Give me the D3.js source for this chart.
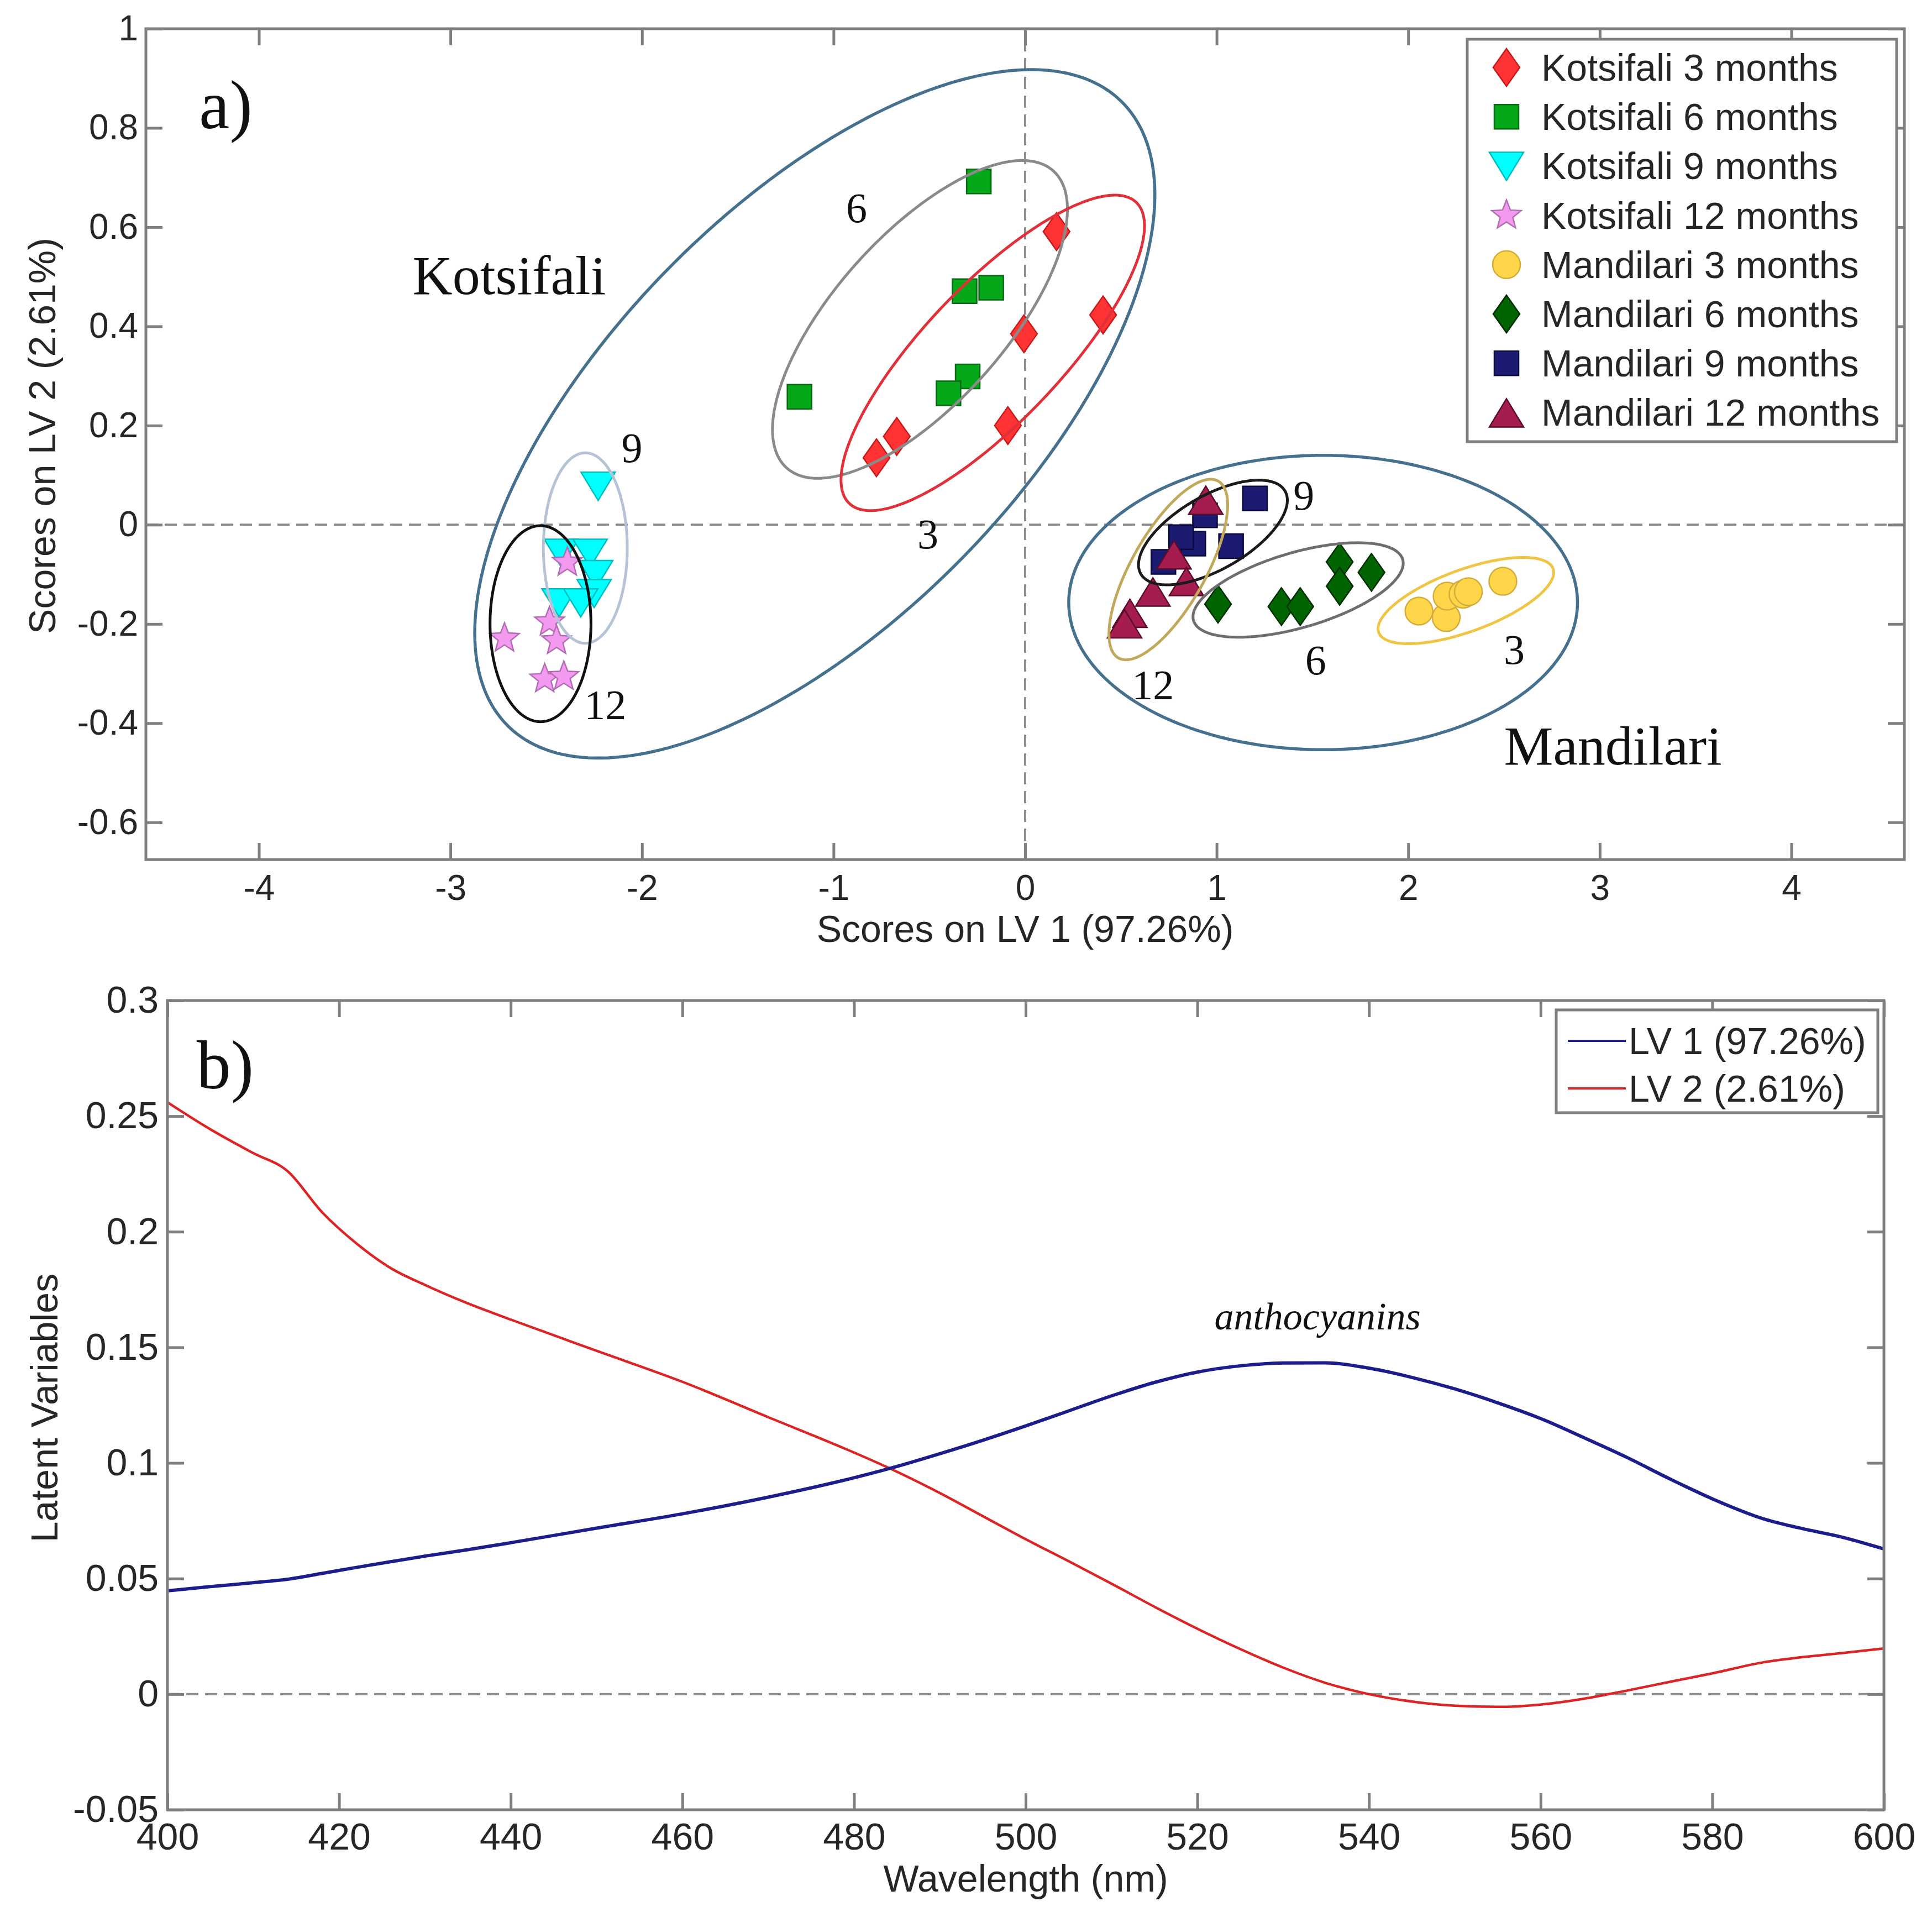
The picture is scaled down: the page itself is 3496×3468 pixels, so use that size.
<!DOCTYPE html>
<html><head><meta charset="utf-8">
<script src="https://cdn.jsdelivr.net/npm/d3@7"></script>
<style>body{margin:0;background:#fff}</style>
</head><body>
<svg id="c" width="3496" height="3468" xmlns="http://www.w3.org/2000/svg"></svg>
<script>
// ---------------- DATA: panel a (scores) ----------------
const kotsifali3  = [[0.164,0.591],[0.407,0.423],[-0.006,0.385],[-0.09,0.200],[-0.67,0.178],[-0.776,0.135]];
const kotsifali6  = [[-0.242,0.692],[-0.316,0.471],[-0.177,0.478],[-0.300,0.299],[-0.400,0.265],[-1.178,0.258]];
const kotsifali9  = [[-2.229,0.078],[-2.421,-0.057],[-2.271,-0.057],[-2.242,-0.100],[-2.250,-0.138],[-2.433,-0.157],[-2.320,-0.157]];
const kotsifali12 = [[-2.390,-0.076],[-2.483,-0.196],[-2.446,-0.234],[-2.718,-0.229],[-2.508,-0.311],[-2.408,-0.306]];
const mandilari3  = [[2.056,-0.174],[2.198,-0.187],[2.203,-0.144],[2.286,-0.140],[2.314,-0.135],[2.494,-0.114]];
const mandilari6  = [[1.007,-0.160],[1.338,-0.165],[1.436,-0.165],[1.642,-0.075],[1.642,-0.124],[1.808,-0.096]];
const mandilari9  = [[1.200,0.053],[0.939,0.019],[0.878,-0.038],[0.814,-0.025],[1.075,-0.043],[0.722,-0.075]];
const mandilari12 = [[0.943,0.050],[0.777,-0.060],[0.842,-0.114],[0.667,-0.135],[0.547,-0.178],[0.519,-0.199]];

const legendNames = ["Kotsifali 3 months","Kotsifali 6 months","Kotsifali 9 months","Kotsifali 12 months",
                     "Mandilari 3 months","Mandilari 6 months","Mandilari 9 months","Mandilari 12 months"];

// confidence ellipses: centre, semi-axis vector A, semi-axis vector B (data units)
const ellipseCenters = [[-1.098,0.2236],[-0.549,0.414],[-0.169,0.3465],[-2.296,-0.047],[-2.530,-0.1995],
                        [1.5556,-0.1568],[2.301,-0.1529],[1.425,-0.1315],[0.9804,-0.0156],[0.7475,-0.0903]];
const ellipseAxisA  = [[1.600,0.630],[0.696,0.2994],[0.749,0.3035],[0,0.192],[0,0.1976],
                        [1.328,0],[0.455,0.0643],[0.546,0.0615],[0.3764,0.0836],[0.2603,0.1783]];
const ellipseAxisB  = [[0.769,-0.291],[0.329,-0.114],[0.258,-0.095],[0.219,0],[0.2634,0],
                        [0,0.2967],[0.0556,-0.0586],[0.0549,-0.0727],[0.0961,-0.0644],[0.168,-0.0366]];

const annotTextA = ["Kotsifali","Mandilari","6","3","9","12","9","6","12","3"];
const annotPosA  = [[-3.198,0.465],[2.50,-0.4836],[-0.88,0.61],[-0.508,-0.048],[-2.053,0.126],[-2.192,-0.392],
                    [1.455,0.0305],[1.517,-0.302],[0.667,-0.352],[2.553,-0.281]];

const xTicksA = [-4,-3,-2,-1,0,1,2,3,4];
const yTicksA = [-0.6,-0.4,-0.2,0,0.2,0.4,0.6,0.8,1];

// ---------------- DATA: panel b (loadings) ----------------
const wavelength = [400,405,410,414,418,422,426,430,435,440,450,460,470,480,485,490,495,500,505,510,515,520,
                    525,530,535,540,545,550,555,560,565,570,575,580,586,590,595,600];
const lv1 = [0.0447,0.0465,0.0482,0.0497,0.0522,0.0548,0.0573,0.0597,0.0625,0.0655,0.0718,0.0780,0.0852,0.0936,
             0.0985,0.1040,0.1098,0.1160,0.1225,0.1290,0.1348,0.1393,0.1420,0.1432,0.1433,0.1410,0.1370,0.1320,
             0.1260,0.1192,0.1110,0.1025,0.0932,0.0845,0.0758,0.0720,0.0680,0.0628];
const lv2 = [0.256,0.2443,0.2340,0.2262,0.2085,0.1950,0.1843,0.1770,0.1690,0.1620,0.1485,0.1351,0.1198,0.1045,
             0.0962,0.0870,0.0770,0.0670,0.0575,0.0478,0.0378,0.0283,0.0195,0.0115,0.0048,0.0000,-0.0032,-0.0050,
             -0.0055,-0.0045,-0.0020,0.0015,0.0053,0.0090,0.0138,0.0158,0.0177,0.0198];
const lineNames = ["LV 1 (97.26%)","LV 2 (2.61%)"];
const xTicksB = [400,420,440,460,480,500,520,540,560,580,600];
const yTicksB = [-0.05,0,0.05,0.1,0.15,0.2,0.25,0.3];

// ---------------- drawing ----------------
const svg = d3.select("#c");
svg.append("rect").attr("width",3496).attr("height",3468).attr("fill","#fff");
const SANS = "'Liberation Sans', Arial, sans-serif";
const SERIF = "'Liberation Serif', 'Times New Roman', serif";
const AX = "#7f7f7f", TXT = "#262626";
const fmt = d => String(+(+d).toFixed(3));

const xA = d3.scaleLinear().domain([-4.59,4.59]).range([264,3446]);
const yA = d3.scaleLinear().domain([-0.675,1]).range([1555,52]);
const xB = d3.scaleLinear().domain([400,600]).range([303,3409]);
const yB = d3.scaleLinear().domain([-0.05,0.3]).range([3274,1810]);

function styleAxis(g, fs){
  g.select(".domain").remove();
  g.selectAll(".tick line").attr("stroke",AX).attr("stroke-width",5);
  g.selectAll("text").attr("font-family",SANS).attr("font-size",fs).attr("fill",TXT);
}
function frame(x, y, xt, yt, fs, padX, padY){
  const [x0,x1] = x.range(), [y0,y1] = y.range();
  const g = svg.append("g");
  g.append("g").attr("transform",`translate(0,${y0})`)
    .call(d3.axisBottom(x).tickValues(xt).tickFormat(fmt).tickSize(-30).tickSizeOuter(0).tickPadding(padX))
    .call(a=>styleAxis(a,fs));
  g.append("g").attr("transform",`translate(0,${y1})`)
    .call(d3.axisTop(x).tickValues(xt).tickFormat("").tickSize(-30).tickSizeOuter(0))
    .call(a=>styleAxis(a,fs));
  g.append("g").attr("transform",`translate(${x0},0)`)
    .call(d3.axisLeft(y).tickValues(yt).tickFormat(fmt).tickSize(-30).tickSizeOuter(0).tickPadding(padY))
    .call(a=>styleAxis(a,fs));
  g.append("g").attr("transform",`translate(${x1},0)`)
    .call(d3.axisRight(y).tickValues(yt).tickFormat("").tickSize(-30).tickSizeOuter(0))
    .call(a=>styleAxis(a,fs));
  g.append("rect").attr("x",x0).attr("y",y1).attr("width",x1-x0).attr("height",y0-y1)
    .attr("fill","none").attr("stroke",AX).attr("stroke-width",5);
}

// ===== Panel a =====
const gA = svg.append("g");
gA.append("line").attr("x1",xA(-4.59)).attr("x2",xA(4.59)).attr("y1",yA(0)).attr("y2",yA(0))
  .attr("stroke","#8c8c8c").attr("stroke-width",4).attr("stroke-dasharray","22,12");
gA.append("line").attr("x1",xA(0)).attr("x2",xA(0)).attr("y1",yA(-0.675)).attr("y2",yA(1))
  .attr("stroke","#8c8c8c").attr("stroke-width",4).attr("stroke-dasharray","22,12");

function starPath(R, r){
  let p = "";
  for (let i=0;i<10;i++){
    const ang = -Math.PI/2 + i*Math.PI/5, rr = i%2===0?R:r;
    p += (i===0?"M":"L") + (rr*Math.cos(ang)).toFixed(2) + "," + (rr*Math.sin(ang)).toFixed(2);
  }
  return p + "Z";
}
const shapes = {
  diamond: "M0,-34L24,0L0,34L-24,0Z",
  square: "M-22,-22L22,-22L22,22L-22,22Z",
  tdown: "M-31,-25L31,-25L0,26Z",
  tup: "M0,-25L31,26L-31,26Z",
  star: starPath(28,12),
  circle: "M25,0A25,25 0 1,1 -25,0A25,25 0 1,1 25,0Z"
};
const groups = [
  {pts:kotsifali3,  shape:"diamond", fill:"#ff3333", stroke:"#c81a1a"},
  {pts:kotsifali6,  shape:"square",  fill:"#05a818", stroke:"#0a6a14"},
  {pts:kotsifali9,  shape:"tdown",   fill:"#00ffff", stroke:"#00bdbd"},
  {pts:kotsifali12, shape:"star",    fill:"#f39af0", stroke:"#b36db3"},
  {pts:mandilari3,  shape:"circle",  fill:"#ffd64a", stroke:"#d2ad3a"},
  {pts:mandilari6,  shape:"diamond", fill:"#006400", stroke:"#002e00"},
  {pts:mandilari9,  shape:"square",  fill:"#1b1b72", stroke:"#0a0a3c"},
  {pts:mandilari12, shape:"tup",     fill:"#a51c50", stroke:"#5a0c28"}
];
const ellipseColors = ["#45718f","#8a8a8a","#e0303a","#b4c4d6","#111111","#45718f","#f0c544","#6e6e6e","#1a1a1a","#c2a85a"];

groups.forEach(gr=>{
  gA.append("g").selectAll("path").data(gr.pts).join("path")
    .attr("d", shapes[gr.shape])
    .attr("transform", d=>`translate(${xA(d[0])},${yA(d[1])})`)
    .attr("fill", gr.fill).attr("stroke", gr.stroke).attr("stroke-width",2.5);
});

const ts = d3.range(0, 2*Math.PI, Math.PI/120);
const ell = d3.line().curve(d3.curveLinearClosed);
ellipseCenters.forEach((c,i)=>{
  const a = ellipseAxisA[i], b = ellipseAxisB[i];
  const pts = ts.map(t=>[xA(c[0]+a[0]*Math.cos(t)+b[0]*Math.sin(t)), yA(c[1]+a[1]*Math.cos(t)+b[1]*Math.sin(t))]);
  gA.append("path").attr("d", ell(pts)).attr("fill","none")
    .attr("stroke", ellipseColors[i]).attr("stroke-width", i===0||i===5 ? 5.5 : 5);
});

annotTextA.forEach((t,i)=>{
  const big = i<2;
  gA.append("text").attr("x",xA(annotPosA[i][0])).attr("y",yA(annotPosA[i][1]))
    .attr("text-anchor", big?"start":"middle")
    .attr("font-family",SERIF).attr("font-size", big?100:76).attr("fill","#111").text(t);
});
gA.append("text").attr("x",xA(-4.312)).attr("y",yA(0.799)).attr("font-family",SERIF)
  .attr("font-size",124).attr("fill","#111").text("a)");

frame(xA, yA, xTicksA, yTicksA, 64, 28, 14);

svg.append("text").attr("x",xA(0)).attr("y",1704).attr("text-anchor","middle")
  .attr("font-family",SANS).attr("font-size",68).attr("fill",TXT).text("Scores on LV 1 (97.26%)");
svg.append("text").attr("transform",`translate(100,${(yA(1)+yA(-0.675))/2 - 15}) rotate(-90)`).attr("text-anchor","middle")
  .attr("font-family",SANS).attr("font-size",68).attr("fill",TXT).text("Scores on LV 2 (2.61%)");

// legend a
const legA = svg.append("g");
legA.append("rect").attr("x",2655).attr("y",71).attr("width",777).attr("height",728)
  .attr("fill","#fff").attr("stroke",AX).attr("stroke-width",5);
legendNames.forEach((n,i)=>{
  const cy = 122 + i*89.2;
  legA.append("path").attr("d", shapes[groups[i].shape]).attr("transform",`translate(2726,${cy})`)
    .attr("fill",groups[i].fill).attr("stroke",groups[i].stroke).attr("stroke-width",2.5);
  legA.append("text").attr("x",2789).attr("y",cy+24).attr("font-family",SANS).attr("font-size",68)
    .attr("fill",TXT).text(n);
});

// ===== Panel b =====
const gB = svg.append("g");
gB.append("line").attr("x1",xB(400)).attr("x2",xB(600)).attr("y1",yB(0)).attr("y2",yB(0))
  .attr("stroke","#8c8c8c").attr("stroke-width",4).attr("stroke-dasharray","22,12");
const lineGen = d3.line().x((d,i)=>xB(wavelength[i])).y(d=>yB(d)).curve(d3.curveMonotoneX);
const lineColors = ["#1c1c8c","#dc2424"];
gB.append("path").attr("d",lineGen(lv2)).attr("fill","none").attr("stroke",lineColors[1]).attr("stroke-width",4.5);
gB.append("path").attr("d",lineGen(lv1)).attr("fill","none").attr("stroke",lineColors[0]).attr("stroke-width",6);

gB.append("text").attr("x",xB(534)).attr("y",yB(0.1578)).attr("text-anchor","middle")
  .attr("font-family",SERIF).attr("font-style","italic").attr("font-size",70).attr("fill","#111").text("anthocyanins");
gB.append("text").attr("x",xB(403.4)).attr("y",yB(0.262)).attr("font-family",SERIF)
  .attr("font-size",124).attr("fill","#111").text("b)");

frame(xB, yB, xTicksB, yTicksB, 68, 24, 16);

svg.append("text").attr("x",xB(500)).attr("y",3422).attr("text-anchor","middle")
  .attr("font-family",SANS).attr("font-size",68).attr("fill",TXT).text("Wavelength (nm)");
svg.append("text").attr("transform",`translate(104,${(yB(0.3)+yB(-0.05))/2 + 5}) rotate(-90)`).attr("text-anchor","middle")
  .attr("font-family",SANS).attr("font-size",68).attr("fill",TXT).text("Latent Variables");

// legend b
const legB = svg.append("g");
legB.append("rect").attr("x",2816).attr("y",1827).attr("width",582).attr("height",186)
  .attr("fill","#fff").attr("stroke",AX).attr("stroke-width",5);
lineNames.forEach((n,i)=>{
  const cy = 1883 + i*86;
  legB.append("line").attr("x1",2837).attr("x2",2942).attr("y1",cy).attr("y2",cy)
    .attr("stroke",lineColors[i]).attr("stroke-width",4);
  legB.append("text").attr("x",2947).attr("y",cy+24).attr("font-family",SANS).attr("font-size",68)
    .attr("fill",TXT).text(n);
});
</script>
</body></html>
